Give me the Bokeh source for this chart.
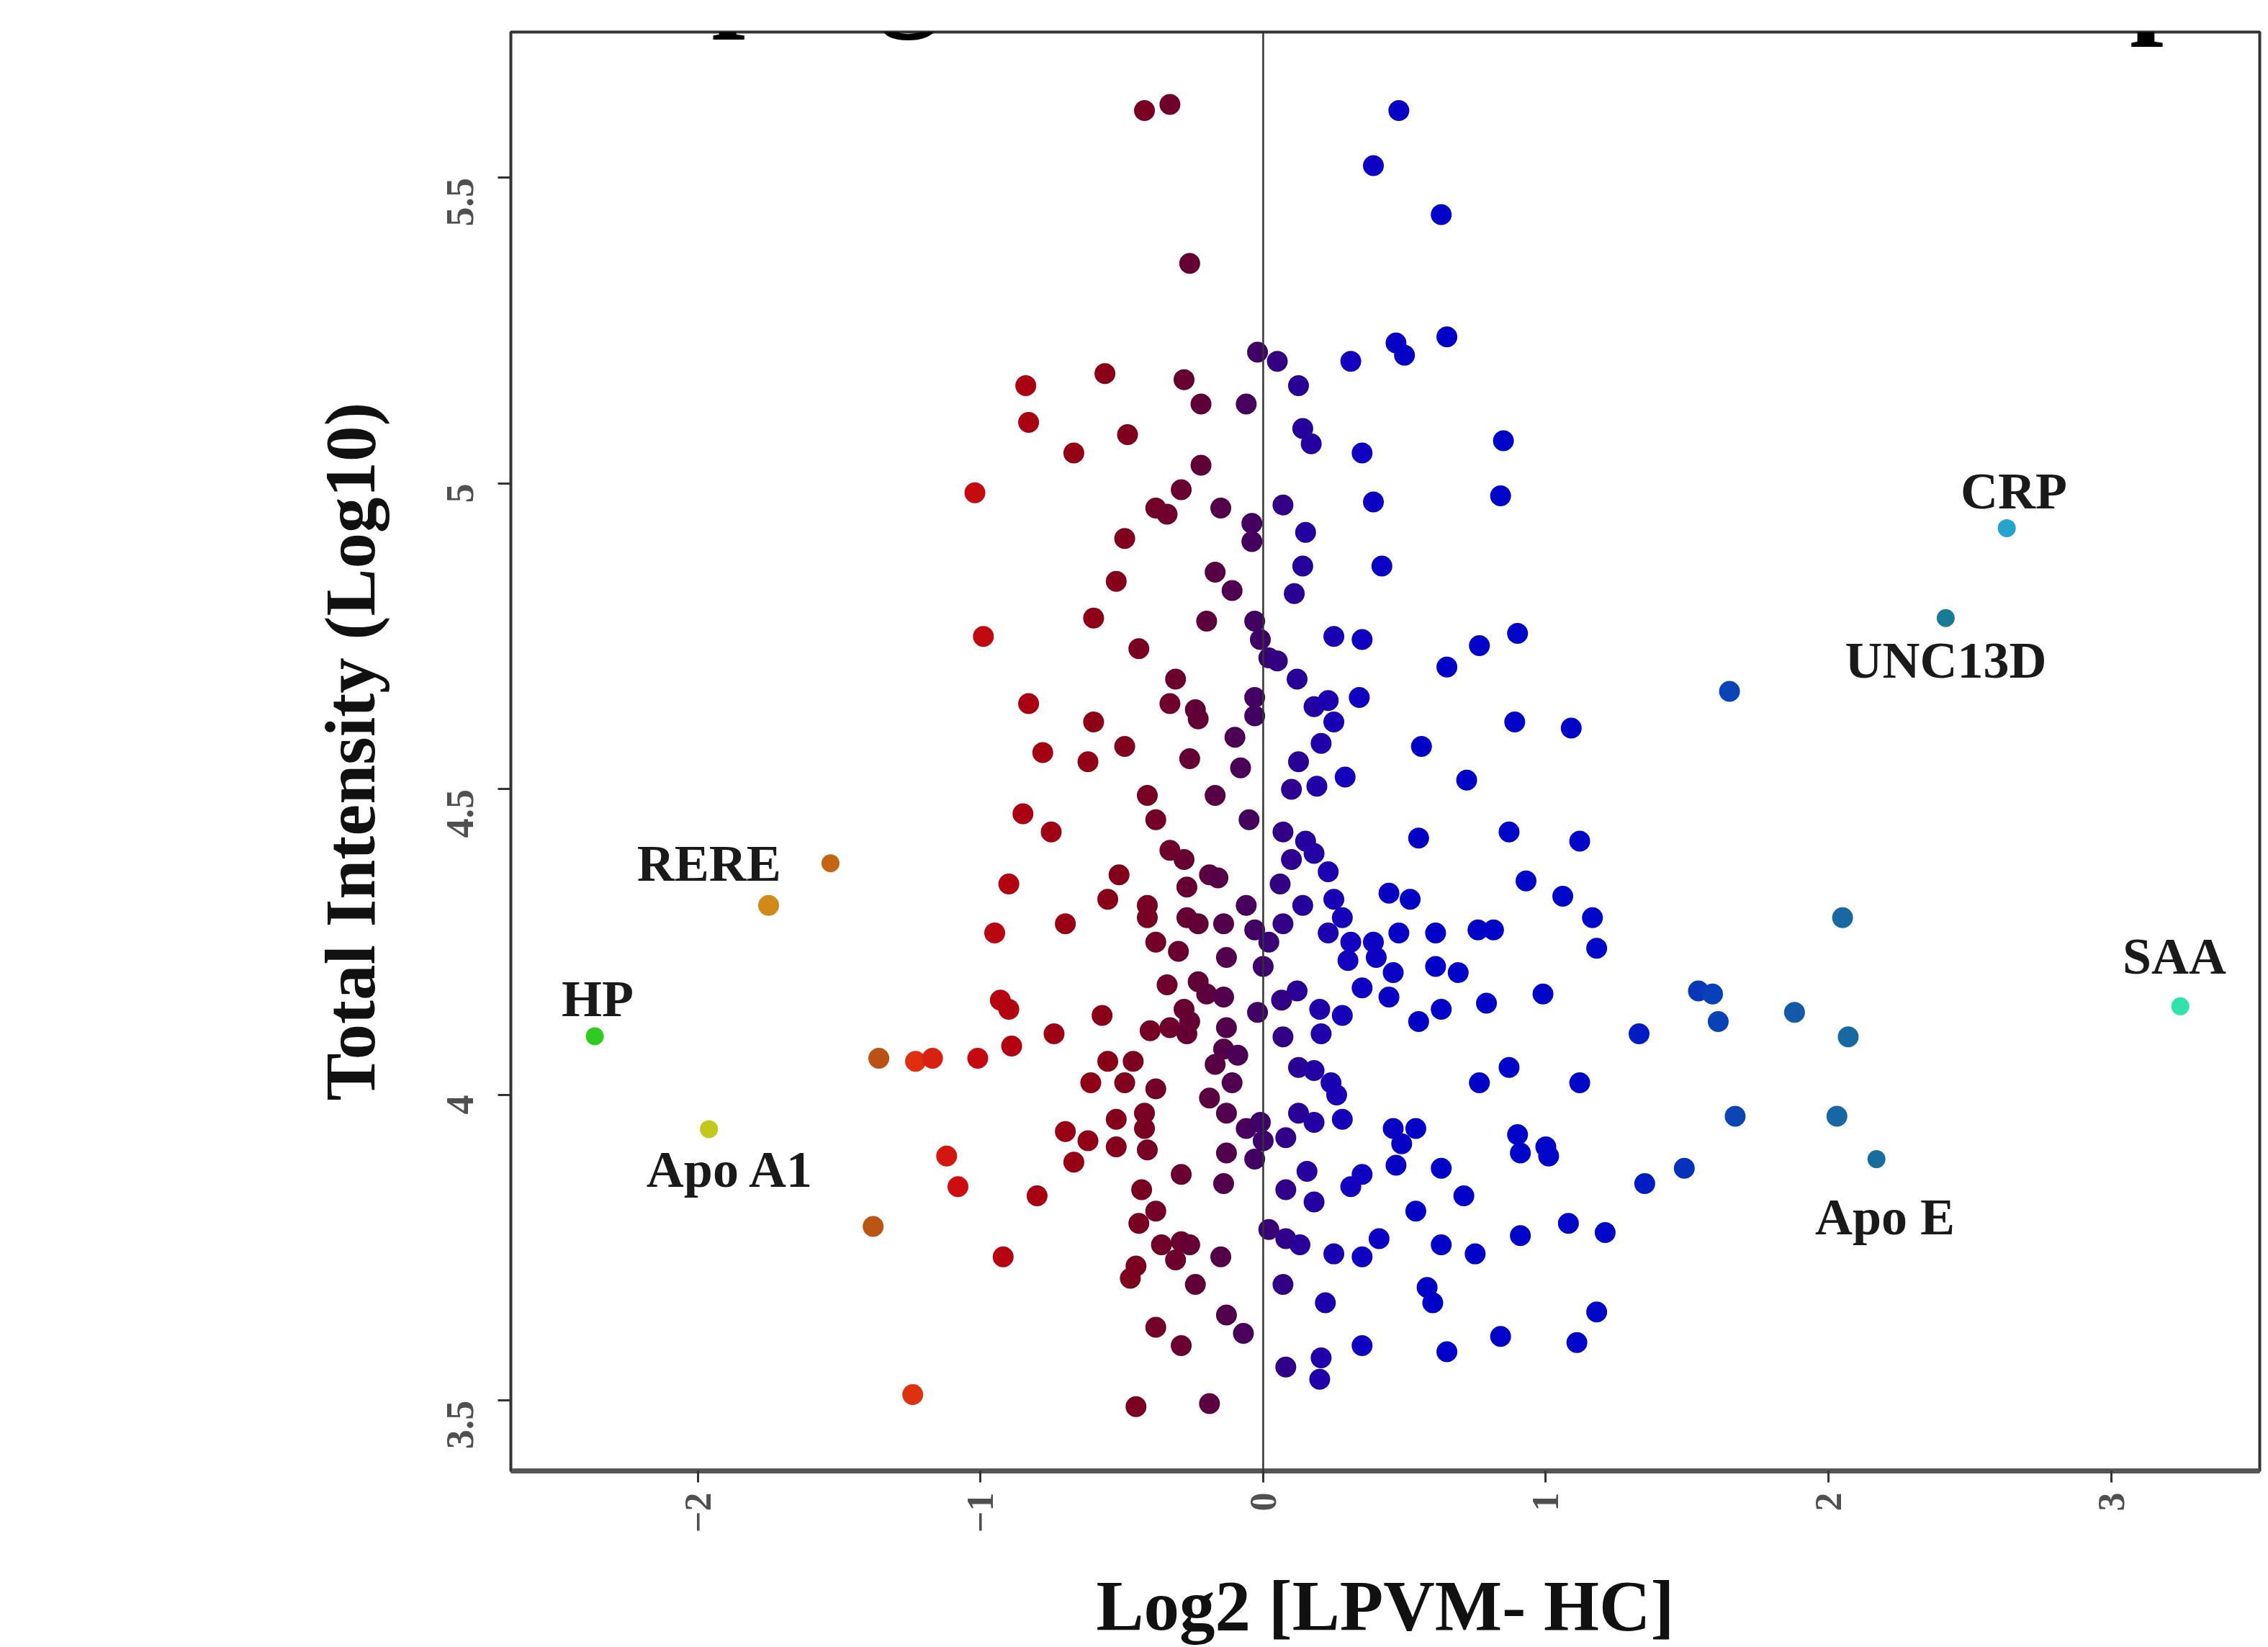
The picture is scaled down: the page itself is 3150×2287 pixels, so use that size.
import math
import numpy as np
from bokeh.plotting import figure
from bokeh.models import (Span, Label, LinearColorMapper, FixedTicker,
                          ColumnDataSource, Range1d, NumeralTickFormatter)
from bokeh.core.properties import value
from bokeh.embed import file_html
from bokeh.resources import INLINE

# ---------------- data ----------------
# upper part of the cloud
x_top = [-0.42, -0.33, 0.48, 0.39, 0.63, -0.26,
         -0.56, -0.84, -0.83, -0.67, -0.48, -0.28, -0.22, -0.06,
         -0.02, 0.05, 0.47, 0.50, 0.65, 0.31, 0.125, 0.14, 0.17, 0.35, 0.85, 0.84, 0.39, 0.07, 0.15,
         -0.22, -0.29, -0.38, -0.34, -0.15, -1.02, -0.49, -0.04]
y_top = [5.61, 5.62, 5.61, 5.52, 5.44, 5.36,
         5.18, 5.16, 5.10, 5.05, 5.08, 5.17, 5.13, 5.13,
         5.215, 5.20, 5.23, 5.21, 5.24, 5.20, 5.16, 5.09, 5.065, 5.05, 5.07, 4.98, 4.97, 4.965, 4.92,
         5.03, 4.99, 4.96, 4.95, 4.96, 4.985, 4.91, 4.935]

# middle-left part
x_midleft = [-0.52, -0.60, -0.99, -0.44, -0.31, -0.33, -0.24, -0.23, -0.83, -0.60,
             -0.49, -0.78, -0.62, -0.26, -0.10, -0.08, -0.17, -0.41, -0.38, -0.05,
             -0.85, -0.75, -0.33, -0.28, -0.19, -0.16, -0.51, -0.27, -0.90, -0.55,
             -0.41, -0.41, -0.06, -0.70, -0.95, -0.27, -0.23, -0.14, -0.38, -0.30,
             -0.13, -0.34, -0.23, -0.03, -0.01, 0.02, -0.03, -0.03, -0.03, 0.00,
             -0.04, -0.17, -0.11, -0.20, -1.75]
y_midleft = [4.84, 4.78, 4.75, 4.73, 4.68, 4.64, 4.63, 4.615, 4.64, 4.61,
             4.57, 4.56, 4.545, 4.55, 4.585, 4.535, 4.49, 4.49, 4.45, 4.45,
             4.46, 4.43, 4.40, 4.385, 4.36, 4.355, 4.36, 4.34, 4.345, 4.32,
             4.31, 4.29, 4.31, 4.28, 4.265, 4.29, 4.28, 4.28, 4.25, 4.235,
             4.225, 4.18, 4.185, 4.775, 4.745, 4.715, 4.65, 4.62, 4.27, 4.21,
             4.905, 4.855, 4.825, 4.775, 4.31]

# lower-left part
x_lowleft = [-0.93, -0.90, -0.57, -0.74, -0.89, -1.01, -1.36, -1.23, -1.17, -0.40,
             -0.33, -0.28, -0.26, -0.27, -0.20, -0.14, -0.13, -0.14, -0.09, -0.17,
             -0.02, -0.55, -0.46, -0.61, -0.49, -0.38, -0.11, -0.19, -0.13, -0.06,
             -0.01, -0.52, -0.42, -0.42, -0.70, -0.62, -0.52, -0.41, -0.67, -0.13,
             -0.03, -0.29, -0.14, -1.12, -1.08, -0.80, -0.43, -0.38, -0.44, -0.36,
             -0.29, -0.26, -0.31, -0.15, -0.45, -0.47, -0.24, -1.38, -0.92, -0.13,
             -0.07, -0.38, -0.29, -1.24, -0.45, -0.19]
y_lowleft = [4.155, 4.14, 4.13, 4.10, 4.08, 4.06, 4.06, 4.055, 4.06, 4.105,
             4.11, 4.14, 4.12, 4.10, 4.165, 4.16, 4.11, 4.075, 4.065, 4.05,
             4.135, 4.055, 4.055, 4.02, 4.02, 4.01, 4.02, 3.995, 3.97, 3.945,
             3.955, 3.96, 3.97, 3.945, 3.94, 3.925, 3.915, 3.91, 3.89, 3.905,
             3.895, 3.87, 3.855, 3.90, 3.85, 3.835, 3.845, 3.81, 3.79, 3.755,
             3.76, 3.755, 3.73, 3.735, 3.72, 3.70, 3.69, 3.785, 3.735, 3.64,
             3.61, 3.62, 3.59, 3.51, 3.49, 3.495]

# middle-right part
x_midright = [0.14, 0.42, 0.11, 0.25, 0.35, 0.65, 0.765, 0.90, 0.05, 0.12,
              0.34, 0.18, 0.23, 0.25, 0.205, 0.125, 0.10, 0.19, 0.29, 0.56,
              0.72, 0.89, 1.09, 1.65, 0.07, 0.15, 0.18, 0.23, 0.10, 0.06,
              0.14, 0.55, 0.87, 1.12, 0.25, 0.28, 0.23, 0.31, 0.445, 0.52,
              0.48, 0.61, 0.76, 0.815, 0.93, 1.06, 1.165, 1.18, 2.05, 0.07,
              0.02, 0.30, 0.39, 0.40, 0.46, 0.61, 0.69, 0.35, 0.445, 0.12,
              0.99, 1.54, 1.59]
y_midright = [4.865, 4.865, 4.82, 4.75, 4.745, 4.70, 4.735, 4.755, 4.71, 4.68,
              4.65, 4.635, 4.645, 4.61, 4.575, 4.545, 4.50, 4.505, 4.52, 4.57,
              4.515, 4.61, 4.60, 4.66, 4.43, 4.415, 4.395, 4.365, 4.385, 4.345,
              4.31, 4.42, 4.43, 4.415, 4.32, 4.29, 4.265, 4.25, 4.33, 4.32,
              4.265, 4.265, 4.27, 4.27, 4.35, 4.325, 4.29, 4.24, 4.29, 4.28,
              4.25, 4.22, 4.25, 4.225, 4.20, 4.21, 4.20, 4.175, 4.16, 4.17,
              4.165, 4.17, 4.165]

# lower-right part
x_lowright = [0.065, 0.79, 1.61, 1.88, 2.07, 0.20, 0.28, 0.07, 0.205, 0.55,
              0.63, 1.33, 0.125, 0.18, 0.24, 0.26, 0.765, 0.87, 1.12, 1.67,
              2.03, 0.125, 0.18, 0.28, 0.00, 0.08, 0.46, 0.54, 0.49, 0.47,
              0.63, 0.90, 0.91, 1.00, 1.01, 1.49, 1.35, 0.155, 0.35, 0.31,
              0.08, 0.18, 0.71, 0.54, 0.02, 0.08, 0.13, 0.25, 0.35, 0.41,
              0.63, 0.75, 0.91, 1.08, 1.21, 0.07, 0.22, 0.58, 0.60, 1.18,
              0.35, 0.65, 0.84, 1.11, 0.08, 0.205, 0.20]
y_lowright = [4.155, 4.15, 4.12, 4.135, 4.095, 4.14, 4.13, 4.095, 4.10, 4.12,
              4.14, 4.10, 4.045, 4.04, 4.02, 4.00, 4.02, 4.045, 4.02, 3.965,
              3.965, 3.97, 3.955, 3.96, 3.925, 3.93, 3.945, 3.945, 3.92, 3.885,
              3.88, 3.935, 3.905, 3.915, 3.90, 3.88, 3.855, 3.875, 3.87, 3.85,
              3.845, 3.825, 3.835, 3.81, 3.78, 3.765, 3.755, 3.74, 3.735, 3.765,
              3.755, 3.74, 3.77, 3.79, 3.775, 3.69, 3.66, 3.685, 3.66, 3.645,
              3.59, 3.58, 3.605, 3.595, 3.555, 3.57, 3.535]

# highlighted proteins
gene_names = ["HP", "Apo A1", "RERE", "CRP", "UNC13D", "SAA", "Apo E"]
gene_x = [-2.365, -1.961, -1.531, 2.631, 2.415, 3.245, 2.170]
gene_y = [4.096, 3.944, 4.379, 4.927, 4.780, 4.145, 3.895]
gene_label_x = [-2.355, -1.884, -1.961, 2.656, 2.415, 3.224, 2.200]
gene_label_y = [4.157, 3.878, 4.379, 4.988, 4.711, 4.227, 3.800]

x_ticks = [-2, -1, 0, 1, 2, 3]
y_ticks = [3.5, 4, 4.5, 5, 5.5]

x_title = "Log2 [LPVM- HC]"
y_title = "Total Intensity (Log10)"
panel_letter = "E"
cut_titles = ["Haptoglobin", "Apo"]

# ---------------- colour ramp (by log2 ratio) ----------------
ramp_pos = [-2.4, -1.95, -1.75, -1.52, -1.37, -1.23, -1.1, -0.85, -0.55,
            -0.25, -0.05, 0.1, 0.3, 0.6, 1.2, 1.6, 2.0, 2.4, 2.65, 3.3]
ramp_col = ["#22cc22", "#c8c81c", "#d08a1a", "#c46412", "#b85416", "#e03010",
            "#d01010", "#ac0012", "#880018", "#640034", "#46005e", "#2c0092",
            "#1400c0", "#0000c8", "#0008c8", "#0a40b8", "#1866a6", "#187890",
            "#28a8d4", "#30e8a8"]


def hex2rgb(h):
    return [int(h[i:i + 2], 16) for i in (1, 3, 5)]


lo, hi = -2.4, 3.3
grid = np.linspace(lo, hi, 512)
rgb = np.array([hex2rgb(c) for c in ramp_col], dtype=float)
chan = [np.interp(grid, ramp_pos, rgb[:, k]) for k in range(3)]
palette = ["#%02x%02x%02x" % (int(r), int(g), int(b)) for r, g, b in zip(*chan)]
mapper = LinearColorMapper(palette=palette, low=lo, high=hi)

x_all = x_top + x_midleft + x_lowleft + x_midright + x_lowright
y_all = y_top + y_midleft + y_lowleft + y_midright + y_lowright
assert len(x_all) == len(y_all)

src = ColumnDataSource(dict(x=x_all, y=y_all))
gsrc = ColumnDataSource(dict(x=gene_x, y=gene_y))
lsrc = ColumnDataSource(dict(x=gene_label_x, y=gene_label_y, t=gene_names))

serif = "Liberation Serif"

# ---------------- figure ----------------
W, H = 3150, 2287
FRAME_L, FRAME_B = 709, 2047
X0, X1 = -2.662, 3.526
p = figure(width=W, height=H, output_backend="svg", toolbar_location=None,
           x_range=Range1d(X0, X1), y_range=Range1d(3.385, 5.7385),
           min_border_left=FRAME_L, min_border_right=12, min_border_top=44,
           min_border_bottom=H - FRAME_B)
p.xgrid.visible = False
p.ygrid.visible = False
p.background_fill_color = "white"
p.border_fill_color = "white"
p.outline_line_color = "#333333"
p.outline_line_width = 4

for ax, ticks in ((p.xaxis, x_ticks), (p.yaxis, y_ticks)):
    ax.ticker = FixedTicker(ticks=ticks)
    ax.major_label_orientation = math.pi / 2
    ax.major_label_text_font = serif
    ax.major_label_text_font_style = "bold"
    ax.major_label_text_color = "#505050"
    ax.major_tick_in = 0
    ax.major_tick_line_width = 3
    ax.major_tick_line_color = "#333333"
    ax.minor_tick_out = 0
    ax.minor_tick_in = 0
    ax.axis_label_text_font = serif
    ax.axis_label_text_font_style = "bold"
    ax.axis_label_text_color = "#111111"
    ax.axis_label_text_font_size = "99px"

p.xaxis.major_label_text_font_size = "52px"
p.xaxis.major_tick_out = 16
p.xaxis.major_label_standoff = 14
p.xaxis.axis_line_width = 7
p.xaxis.axis_line_color = "#555555"
p.xaxis.axis_label = x_title
p.xaxis.axis_label_standoff = 44

p.yaxis.major_label_text_font_size = "54px"
p.yaxis.major_tick_out = 18
p.yaxis.major_label_standoff = 52
p.yaxis.axis_line_width = 3
p.yaxis.axis_line_color = "#333333"
p.yaxis.formatter = NumeralTickFormatter(format="0.[0]")
p.yaxis.axis_label = y_title
p.yaxis.axis_label_standoff = 60

# zero line
p.add_layout(Span(location=0, dimension="height", line_color="#333333",
                  line_width=2.5))

# points
p.scatter("x", "y", source=src, size=29,
          fill_color={"field": "x", "transform": mapper}, line_color=None)
p.scatter("x", "y", source=gsrc, size=25,
          fill_color={"field": "x", "transform": mapper}, line_color=None)

# protein labels
p.text("x", "y", text="t", source=lsrc, text_font=value(serif),
       text_font_style="bold", text_font_size="72px", text_color="#1a1a1a",
       text_align="center", text_baseline="middle")

# cut-off neighbour titles above the frame
p.add_layout(Label(x=-2.499, y=5.836, text=cut_titles[0], text_font=serif,
                   text_font_style="bold", text_font_size="168px",
                   text_color="#000000", text_align="left",
                   text_baseline="alphabetic"))
p.add_layout(Label(x=2.757, y=5.824, text=cut_titles[1], text_font=serif,
                   text_font_style="bold", text_font_size="168px",
                   text_color="#000000", text_align="left",
                   text_baseline="alphabetic"))

# panel letter: anchored on the frame's left edge, shifted left in pixels
p.add_layout(Label(x=X0, y=5.5646, x_offset=70 - FRAME_L, text=panel_letter,
                   text_font=serif, text_font_size="242px",
                   text_color="#000000", text_align="left",
                   text_baseline="alphabetic"))

open("out.html", "w").write(file_html(p, INLINE))
